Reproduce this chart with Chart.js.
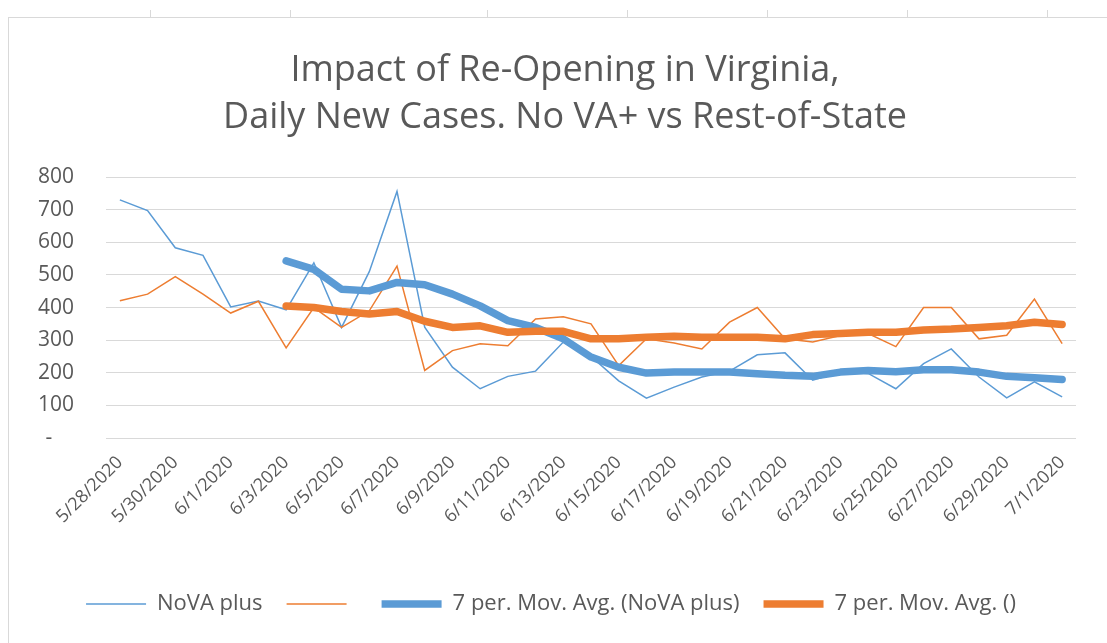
<!DOCTYPE html>
<html>
<head>
<meta charset="utf-8">
<script src="https://cdn.jsdelivr.net/npm/chart.js@4"></script>
<style>
  body { margin: 0; background: #fff; }
  #frame { position: absolute; left: 8px; top: 17px; width: 1099px; height: 626px;
           border-left: 1px solid #d9d9d9; border-top: 1px solid #d9d9d9; }
  .tick { position: absolute; top: 10px; width: 1px; height: 7px; background: #d9d9d9; }
  canvas { position: absolute; left: 0; top: 0; }
</style>
</head>
<body>
<div id="frame"></div>
<div class="tick" style="left:150px"></div>
<div class="tick" style="left:290px"></div>
<div class="tick" style="left:487px"></div>
<div class="tick" style="left:627px"></div>
<div class="tick" style="left:767px"></div>
<div class="tick" style="left:907px"></div>
<div class="tick" style="left:1047px"></div>
<canvas id="lineChart" width="1107" height="643"></canvas>
<script>
// dates, one per day
const dates = [
	'5/28/2020', '5/29/2020', '5/30/2020', '5/31/2020', '6/1/2020', '6/2/2020', '6/3/2020',
	'6/4/2020', '6/5/2020', '6/6/2020', '6/7/2020', '6/8/2020', '6/9/2020', '6/10/2020',
	'6/11/2020', '6/12/2020', '6/13/2020', '6/14/2020', '6/15/2020', '6/16/2020', '6/17/2020',
	'6/18/2020', '6/19/2020', '6/20/2020', '6/21/2020', '6/22/2020', '6/23/2020', '6/24/2020',
	'6/25/2020', '6/26/2020', '6/27/2020', '6/28/2020', '6/29/2020', '6/30/2020', '7/1/2020'
];

// daily new cases
const novaPlus = [730, 697, 583, 560, 402, 420, 393, 537, 339, 510, 756, 340, 217, 151, 189,
	205, 294, 250, 175, 122, 156, 187, 205, 255, 261, 177, 202, 198, 151, 228, 273, 187, 123, 172, 126];
const restOfState = [421, 441, 495, 441, 383, 419, 276, 400, 339, 390, 527, 207, 268, 289, 283,
	365, 372, 350, 222, 304, 291, 273, 355, 400, 304, 294, 314, 320, 280, 400, 400, 304, 315, 426, 289];

// 7 period moving average trendlines
const novaAvg = [null, null, null, null, null, null, 543, 517, 456, 451, 477, 470, 441, 405, 360,
	339, 304, 248, 217, 199, 202, 202, 202, 197, 192, 189, 202, 207, 203, 209, 209, 202, 189, 185, 179];
const restAvg = [null, null, null, null, null, null, 405, 400, 388, 380, 388, 358, 339, 344, 324,
	327, 327, 304, 304, 309, 312, 309, 309, 309, 304, 317, 320, 324, 324, 331, 334, 339, 344, 355, 348];

const yTicks = [0, 100, 200, 300, 400, 500, 600, 700, 800];

const blue = '#5B9BD5';
const orange = '#ED7D31';
const grey = '#595959';
const font = 'Open Sans';

const ctx = document.getElementById('lineChart').getContext('2d');

new Chart(ctx, {
	type: 'line',
	data: {
		labels: dates,
		datasets: [
			{ label: 'NoVA plus', data: novaPlus, borderColor: blue, borderWidth: 1.5, order: 4 },
			{ label: '', data: restOfState, borderColor: orange, borderWidth: 1.5, order: 3 },
			{ label: '7 per. Mov. Avg. (NoVA plus)', data: novaAvg, borderColor: blue, borderWidth: 7.5,
				borderCapStyle: 'round', borderJoinStyle: 'round', order: 2 },
			{ label: '7 per. Mov. Avg. ()', data: restAvg, borderColor: orange, borderWidth: 7.5,
				borderCapStyle: 'round', borderJoinStyle: 'round', order: 1 }
		].map(d => Object.assign({ pointRadius: 0, pointStyle: 'line', tension: 0, fill: false,
			backgroundColor: d.borderColor }, d))
	},
	options: {
		responsive: false,
		animation: false,
		devicePixelRatio: 1,
		layout: { padding: { left: 26, right: 31, top: 0, bottom: 18 } },
		plugins: {
			tooltip: { enabled: false },
			title: {
				display: true,
				// leading spaces nudge the centred title a little to the right
				text: ['   Impact of Re-Opening in Virginia,', '   Daily New Cases. No VA+ vs Rest-of-State'],
				color: grey,
				font: { family: font, size: 36, weight: 'normal', lineHeight: 1.306 },
				padding: { top: 47, bottom: 36 }
			},
			legend: {
				position: 'bottom',
				labels: {
					usePointStyle: true,
					pointStyleWidth: 60,
					color: grey,
					font: { family: font, size: 22 },
					padding: 24,
					sort: (a, b) => a.datasetIndex - b.datasetIndex
				}
			}
		},
		scales: {
			x: {
				offset: true,
				grid: { display: false, drawTicks: false },
				border: { display: false },
				afterFit: s => { s.height = 131; },
				ticks: {
					autoSkip: false,
					maxRotation: 45,
					minRotation: 45,
					padding: 14,
					color: grey,
					font: { family: font, size: 18 },
					callback: (v, i) => (i % 2 === 0 ? dates[i] : '')
				}
			},
			y: {
				min: 0,
				max: 800,
				afterFit: s => { s.width = 80; },
				afterBuildTicks: s => { s.ticks = yTicks.map(v => ({ value: v })); },
				grid: { color: '#d9d9d9', drawTicks: false, lineWidth: 1 },
				border: { display: false },
				ticks: {
					padding: 32,
					color: grey,
					font: { family: font, size: 21 },
					callback: v => (v === 0 ? '-    ' : v)
				}
			}
		}
	}
});
</script>
</body>
</html>
